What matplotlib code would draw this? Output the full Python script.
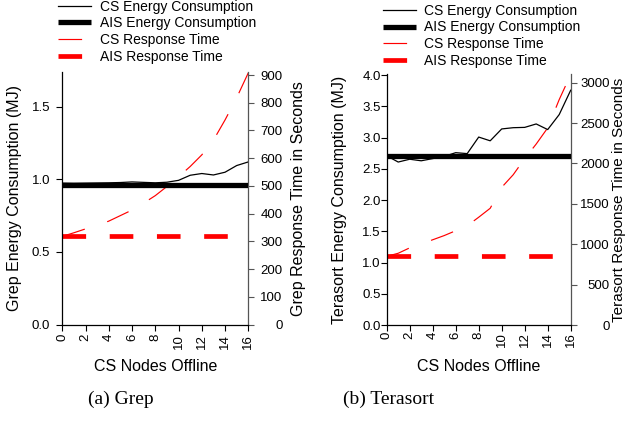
import matplotlib
matplotlib.use("Agg")
import matplotlib.pyplot as plt
from matplotlib.lines import Line2D

plt.rcParams['font.family'] = ['Liberation Sans', 'DejaVu Sans']
plt.rcParams['lines.scale_dashes'] = False

# ---------------- data ----------------
nodes = [0, 1, 2, 3, 4, 5, 6, 7, 8, 9, 10, 11, 12, 13, 14, 15, 16]
xticks = [0, 2, 4, 6, 8, 10, 12, 14, 16]

grep_cs_energy = [0.975, 0.974, 0.975, 0.976, 0.977, 0.979, 0.983, 0.980, 0.977,
                  0.981, 0.994, 1.029, 1.041, 1.031, 1.050, 1.096, 1.121]
grep_ais_energy = [0.961, 0.961, 0.961, 0.961, 0.961, 0.961, 0.961, 0.961, 0.961,
                   0.961, 0.961, 0.961, 0.961, 0.961, 0.961, 0.961, 0.961]
grep_cs_rt = [318, 331, 345, 358, 373, 393, 413, 438, 465, 498, 533, 570, 612,
              665, 738, 818, 908]
grep_ais_rt = [318, 318, 318, 318, 318, 318, 318, 318, 318, 318, 318, 318, 318,
               318, 318, 318, 318]

tera_cs_energy = [2.71, 2.61, 2.655, 2.63, 2.665, 2.70, 2.76, 2.745, 3.01, 2.95,
                  3.14, 3.16, 3.165, 3.22, 3.13, 3.37, 3.76]
tera_ais_energy = [2.71, 2.71, 2.71, 2.71, 2.71, 2.71, 2.71, 2.71, 2.71, 2.71,
                   2.71, 2.71, 2.71, 2.71, 2.71, 2.71, 2.71]
tera_cs_rt = [850, 888, 955, 1003, 1055, 1107, 1167, 1228, 1334, 1445, 1704, 1860,
              2060, 2240, 2440, 2790, 3100]
tera_ais_rt = [858, 858, 858, 858, 858, 858, 858, 858, 858, 858, 858, 858, 858,
               858, 858, 858, 858]

grep_e_ticks = [0.0, 0.5, 1.0, 1.5]
grep_e_labels = ["0.0", "0.5", "1.0", "1.5"]
grep_t_ticks = [0, 100, 200, 300, 400, 500, 600, 700, 800, 900]
tera_e_ticks = [0.0, 0.5, 1.0, 1.5, 2.0, 2.5, 3.0, 3.5, 4.0]
tera_e_labels = ["0.0", "0.5", "1.0", "1.5", "2.0", "2.5", "3.0", "3.5", "4.0"]
tera_t_ticks = [0, 500, 1000, 1500, 2000, 2500, 3000]

legend_labels = ["CS Energy Consumption", "AIS Energy Consumption",
                 "CS Response Time", "AIS Response Time"]

# ---------------- figure ----------------
W, H = 629, 421
fig = plt.figure(figsize=(W / 100, H / 100), dpi=100)


def px_axes(x0, y0, x1, y1):
    return fig.add_axes([x0 / W, (H - y1) / H, (x1 - x0) / W, (y1 - y0) / H])


RED = '#ff0000'
GRAY = '#555555'
DASH = (0, (17, 17))
TICKLEN = 4
TICKFS = 9.5
LABFS = 11.5


def panel(rect, cs_e, ais_e, cs_t, ais_t, e_ylim, t_ylim, e_ticks, e_labels,
          t_ticks, ylab_l, ylab_r, l_pad, r_pad, x_pad, yl_x, yr_x, leg_xy,
          yr_fs=LABFS):
    ax = px_axes(*rect)
    ax2 = ax.twinx()
    ax.plot(nodes, cs_e, color='black', lw=0.9, zorder=3)
    ax.plot(nodes, ais_e, color='black', lw=3.8, solid_capstyle='butt', zorder=2)
    ax2.plot(nodes, cs_t, color=RED, lw=0.85, linestyle=DASH,
             dash_capstyle='butt')
    ax2.plot(nodes, ais_t, color=RED, lw=3.4, linestyle=DASH,
             dash_capstyle='butt')
    ax.set_xlim(0, 16)
    ax.set_ylim(*e_ylim)
    ax2.set_ylim(*t_ylim)
    ax.set_xticks(xticks)
    ax.set_xticklabels([str(v) for v in xticks], rotation=90)
    ax.set_yticks(e_ticks)
    ax.set_yticklabels(e_labels)
    ax2.set_yticks(t_ticks)
    ax2.set_yticklabels([str(v) for v in t_ticks], ha='right')
    for a in (ax, ax2):
        a.spines['top'].set_visible(False)
    ax.spines['right'].set_visible(False)
    ax2.spines['left'].set_visible(False)
    ax2.spines['bottom'].set_visible(False)
    ax2.spines['right'].set_color(GRAY)
    ax2.spines['right'].set_linewidth(0.9)
    ax.spines['left'].set_linewidth(0.9)
    ax.spines['bottom'].set_linewidth(0.9)
    ax.tick_params(axis='y', length=TICKLEN, width=0.8, labelsize=TICKFS, pad=l_pad)
    ax.tick_params(axis='x', length=TICKLEN, width=0.8, labelsize=TICKFS, pad=x_pad)
    ax2.tick_params(axis='y', length=TICKLEN, width=0.8, labelsize=TICKFS,
                    pad=r_pad, color=GRAY)
    ax.set_xlabel("CS Nodes Offline", fontsize=LABFS, va='center')
    ax.xaxis.set_label_coords(0.5, -0.165)
    ax.set_ylabel(ylab_l, fontsize=LABFS, va='center')
    ax.yaxis.set_label_coords(yl_x, 0.5)
    ax2.set_ylabel(ylab_r, fontsize=yr_fs, va='center')
    ax2.yaxis.set_label_coords(yr_x, 0.5)
    ax.patch.set_visible(False)
    ax.set_zorder(ax2.get_zorder() + 1)

    handles = [Line2D([], [], color='black', lw=0.9),
               Line2D([], [], color='black', lw=3.8, solid_capstyle='butt'),
               Line2D([], [], color=RED, lw=0.85, linestyle=DASH, dash_capstyle='butt'),
               Line2D([], [], color=RED, lw=3.4, linestyle=DASH, dash_capstyle='butt')]
    ax.legend(handles, legend_labels, loc='upper left',
              bbox_to_anchor=(leg_xy[0] / W, 1 - leg_xy[1] / H),
              bbox_transform=fig.transFigure, frameon=False, borderpad=0,
              borderaxespad=0, handlelength=2.38, handletextpad=0.62,
              labelspacing=0.2, fontsize=10)
    return ax, ax2


panel((62.3, 72, 248.3, 324.5), grep_cs_energy, grep_ais_energy, grep_cs_rt,
      grep_ais_rt, (0, 1.741), (0, 911), grep_e_ticks, grep_e_labels, grep_t_ticks,
      "Grep Energy Consumption (MJ)", "Grep Response Time in Seconds",
      4.8, 20.7, 2.8, (15 - 62.3) / 186, (299 - 62.3) / 186, (58.3, -0.5))

panel((386.7, 74, 570.7, 325), tera_cs_energy, tera_ais_energy, tera_cs_rt,
      tera_ais_rt, (0, 4.02), (0, 3107), tera_e_ticks, tera_e_labels, tera_t_ticks,
      "Terasort Energy Consumption (MJ)", "Terasort Response Time in Seconds",
      0.3, 24.3, 0.8, (340 - 386.7) / 184, (619 - 386.7) / 184, (382.7, 3.7),
      yr_fs=11)

fig.text(121 / W, 1 - 399 / H, "(a) Grep", family='Liberation Serif',
         fontsize=14, ha='center', va='center')
fig.text(389 / W, 1 - 399 / H, "(b) Terasort", family='Liberation Serif',
         fontsize=14, ha='center', va='center')

fig.savefig("out.png", dpi=100)
